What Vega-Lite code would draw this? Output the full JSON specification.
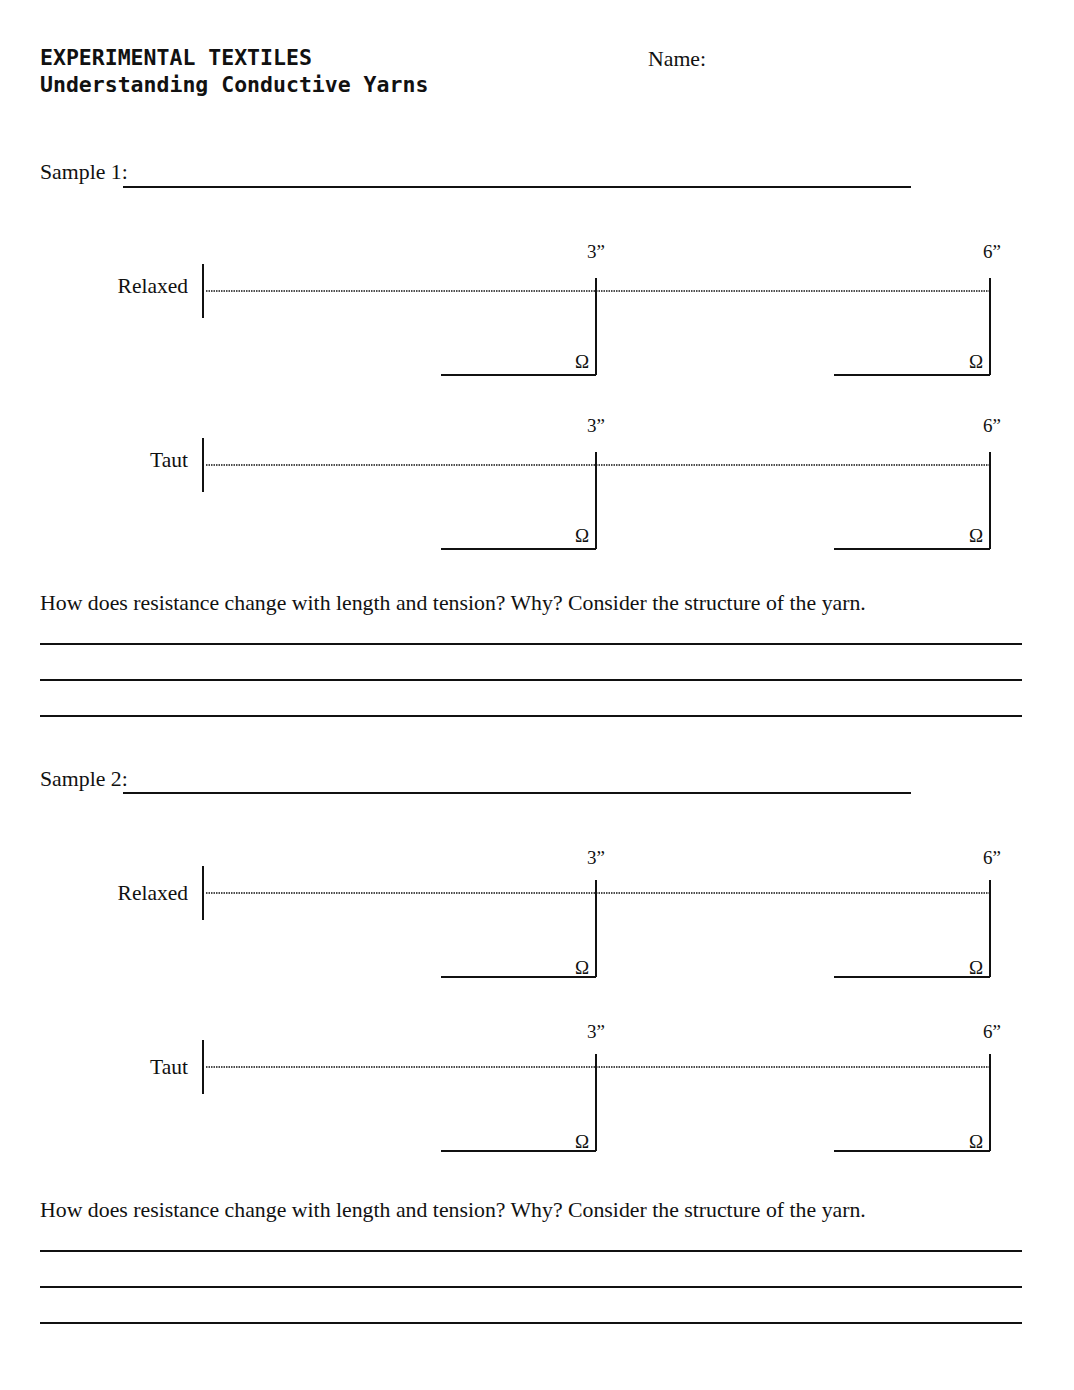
{
  "$schema": "https://vega.github.io/schema/vega-lite/v6.json",
  "description": "Experimental Textiles worksheet: conductive yarn resistance measurements.",
  "autosize": {"type": "fit", "contains": "padding"},
  "width": 1074,
  "height": 1390,
  "padding": 0,
  "background": "white",
  "config": {"view": {"stroke": null}},
  "datasets": {
    "lines": [
      {"kind": "solid", "x": 123, "x2": 911, "y": 187, "y2": 187},
      {"kind": "solid", "x": 40, "x2": 1022, "y": 644, "y2": 644},
      {"kind": "solid", "x": 40, "x2": 1022, "y": 680, "y2": 680},
      {"kind": "solid", "x": 40, "x2": 1022, "y": 716, "y2": 716},
      {"kind": "solid", "x": 123, "x2": 911, "y": 793, "y2": 793},
      {"kind": "solid", "x": 40, "x2": 1022, "y": 1251, "y2": 1251},
      {"kind": "solid", "x": 40, "x2": 1022, "y": 1287, "y2": 1287},
      {"kind": "solid", "x": 40, "x2": 1022, "y": 1323, "y2": 1323},

      {"kind": "solid", "x": 203, "x2": 203, "y": 264, "y2": 318},
      {"kind": "dotted", "x": 206, "x2": 990, "y": 291, "y2": 291},
      {"kind": "solid", "x": 596, "x2": 596, "y": 278, "y2": 375},
      {"kind": "solid", "x": 441, "x2": 596, "y": 375, "y2": 375},
      {"kind": "solid", "x": 990, "x2": 990, "y": 278, "y2": 375},
      {"kind": "solid", "x": 834, "x2": 990, "y": 375, "y2": 375},

      {"kind": "solid", "x": 203, "x2": 203, "y": 438, "y2": 492},
      {"kind": "dotted", "x": 206, "x2": 990, "y": 465, "y2": 465},
      {"kind": "solid", "x": 596, "x2": 596, "y": 452, "y2": 549},
      {"kind": "solid", "x": 441, "x2": 596, "y": 549, "y2": 549},
      {"kind": "solid", "x": 990, "x2": 990, "y": 452, "y2": 549},
      {"kind": "solid", "x": 834, "x2": 990, "y": 549, "y2": 549},

      {"kind": "solid", "x": 203, "x2": 203, "y": 866, "y2": 920},
      {"kind": "dotted", "x": 206, "x2": 990, "y": 893, "y2": 893},
      {"kind": "solid", "x": 596, "x2": 596, "y": 880, "y2": 977},
      {"kind": "solid", "x": 441, "x2": 596, "y": 977, "y2": 977},
      {"kind": "solid", "x": 990, "x2": 990, "y": 880, "y2": 977},
      {"kind": "solid", "x": 834, "x2": 990, "y": 977, "y2": 977},

      {"kind": "solid", "x": 203, "x2": 203, "y": 1040, "y2": 1094},
      {"kind": "dotted", "x": 206, "x2": 990, "y": 1067, "y2": 1067},
      {"kind": "solid", "x": 596, "x2": 596, "y": 1054, "y2": 1151},
      {"kind": "solid", "x": 441, "x2": 596, "y": 1151, "y2": 1151},
      {"kind": "solid", "x": 990, "x2": 990, "y": 1054, "y2": 1151},
      {"kind": "solid", "x": 834, "x2": 990, "y": 1151, "y2": 1151}
    ],
    "texts": [
      {"kind": "head", "x": 40, "y": 59, "text": "EXPERIMENTAL TEXTILES"},
      {"kind": "head", "x": 40, "y": 86, "text": "Understanding Conductive Yarns"},
      {"kind": "left", "x": 648, "y": 59, "text": "Name:"},
      {"kind": "left", "x": 40, "y": 172, "text": "Sample 1:"},
      {"kind": "left", "x": 40, "y": 603, "text": "How does resistance change with length and tension? Why? Consider the structure of the yarn."},
      {"kind": "left", "x": 40, "y": 779, "text": "Sample 2:"},
      {"kind": "left", "x": 40, "y": 1210, "text": "How does resistance change with length and tension? Why? Consider the structure of the yarn."},

      {"kind": "right", "x": 188, "y": 287, "text": "Relaxed"},
      {"kind": "right", "x": 188, "y": 461, "text": "Taut"},
      {"kind": "right", "x": 188, "y": 894, "text": "Relaxed"},
      {"kind": "right", "x": 188, "y": 1068, "text": "Taut"},

      {"kind": "center", "x": 596, "y": 252, "text": "3”"},
      {"kind": "center", "x": 992, "y": 252, "text": "6”"},
      {"kind": "center", "x": 582, "y": 362, "text": "Ω"},
      {"kind": "center", "x": 976, "y": 362, "text": "Ω"},
      {"kind": "center", "x": 596, "y": 426, "text": "3”"},
      {"kind": "center", "x": 992, "y": 426, "text": "6”"},
      {"kind": "center", "x": 582, "y": 536, "text": "Ω"},
      {"kind": "center", "x": 976, "y": 536, "text": "Ω"},
      {"kind": "center", "x": 596, "y": 858, "text": "3”"},
      {"kind": "center", "x": 992, "y": 858, "text": "6”"},
      {"kind": "center", "x": 582, "y": 968, "text": "Ω"},
      {"kind": "center", "x": 976, "y": 968, "text": "Ω"},
      {"kind": "center", "x": 596, "y": 1032, "text": "3”"},
      {"kind": "center", "x": 992, "y": 1032, "text": "6”"},
      {"kind": "center", "x": 582, "y": 1142, "text": "Ω"},
      {"kind": "center", "x": 976, "y": 1142, "text": "Ω"}
    ]
  },
  "layer": [
    {
      "data": {"name": "lines"},
      "transform": [{"filter": "datum.kind == 'solid'"}],
      "mark": {"type": "rule", "stroke": "#111", "strokeWidth": 2},
      "encoding": {
        "x": {"field": "x", "type": "quantitative", "scale": {"domain": [0, 1074]}, "axis": null},
        "x2": {"field": "x2"},
        "y": {"field": "y", "type": "quantitative", "scale": {"domain": [0, 1390], "reverse": true}, "axis": null},
        "y2": {"field": "y2"}
      }
    },
    {
      "data": {"name": "lines"},
      "transform": [{"filter": "datum.kind == 'dotted'"}],
      "mark": {"type": "rule", "stroke": "#111", "strokeWidth": 1.3, "strokeDash": [1.5, 1]},
      "encoding": {
        "x": {"field": "x", "type": "quantitative", "scale": {"domain": [0, 1074]}, "axis": null},
        "x2": {"field": "x2"},
        "y": {"field": "y", "type": "quantitative", "scale": {"domain": [0, 1390], "reverse": true}, "axis": null},
        "y2": {"field": "y2"}
      }
    },
    {
      "data": {"name": "texts"},
      "transform": [{"filter": "datum.kind == 'head'"}],
      "mark": {"type": "text", "align": "left", "baseline": "middle", "font": "DejaVu Sans Mono", "fontWeight": "bold", "fontSize": 21.5, "color": "#111"},
      "encoding": {
        "x": {"field": "x", "type": "quantitative", "scale": {"domain": [0, 1074]}, "axis": null},
        "y": {"field": "y", "type": "quantitative", "scale": {"domain": [0, 1390], "reverse": true}, "axis": null},
        "text": {"field": "text"}
      }
    },
    {
      "data": {"name": "texts"},
      "transform": [{"filter": "datum.kind == 'left'"}],
      "mark": {"type": "text", "align": "left", "baseline": "middle", "font": "Liberation Serif", "fontSize": 21.8, "color": "#111"},
      "encoding": {
        "x": {"field": "x", "type": "quantitative", "scale": {"domain": [0, 1074]}, "axis": null},
        "y": {"field": "y", "type": "quantitative", "scale": {"domain": [0, 1390], "reverse": true}, "axis": null},
        "text": {"field": "text"}
      }
    },
    {
      "data": {"name": "texts"},
      "transform": [{"filter": "datum.kind == 'right'"}],
      "mark": {"type": "text", "align": "right", "baseline": "middle", "font": "Liberation Serif", "fontSize": 21.5, "color": "#111"},
      "encoding": {
        "x": {"field": "x", "type": "quantitative", "scale": {"domain": [0, 1074]}, "axis": null},
        "y": {"field": "y", "type": "quantitative", "scale": {"domain": [0, 1390], "reverse": true}, "axis": null},
        "text": {"field": "text"}
      }
    },
    {
      "data": {"name": "texts"},
      "transform": [{"filter": "datum.kind == 'center'"}],
      "mark": {"type": "text", "align": "center", "baseline": "middle", "font": "Liberation Serif", "fontSize": 19, "color": "#111"},
      "encoding": {
        "x": {"field": "x", "type": "quantitative", "scale": {"domain": [0, 1074]}, "axis": null},
        "y": {"field": "y", "type": "quantitative", "scale": {"domain": [0, 1390], "reverse": true}, "axis": null},
        "text": {"field": "text"}
      }
    }
  ]
}
